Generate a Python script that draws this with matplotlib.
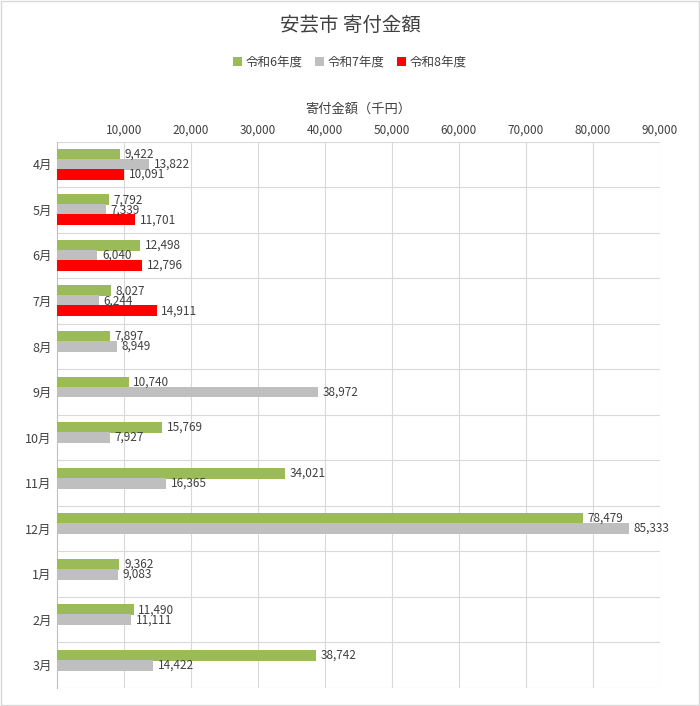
import matplotlib
matplotlib.use("Agg")
import matplotlib.pyplot as plt
import numpy as np

plt.rcParams['font.family'] = ['Noto Sans CJK JP', 'DejaVu Sans']

months = ['4月','5月','6月','7月','8月','9月','10月','11月','12月','1月','2月','3月']
r6 = [9422, 7792, 12498, 8027, 7897, 10740, 15769, 34021, 78479, 9362, 11490, 38742]
r7 = [13822, 7339, 6040, 6244, 8949, 38972, 7927, 16365, 85333, 9083, 11111, 14422]
r8 = [10091, 11701, 12796, 14911]
names = ['令和6年度', '令和7年度', '令和8年度']
colors = ['#9BBB59', '#BFBFBF', '#FF0000']

fig = plt.figure(figsize=(7, 7.06), dpi=100)
ax = fig.add_axes([0.081, 0.0255, 0.862, 0.774])
y = np.arange(len(months))
h = 0.24
for i, (vals, off) in enumerate([(r6, -0.22), (r7, 0.0), (r8, 0.22)]):
    yy = y[:len(vals)] + off
    ax.barh(yy, vals, height=h, color=colors[i], label=names[i], zorder=3)
    for yv, v in zip(yy, vals):
        ax.text(v + 700, yv, f'{v:,}', va='center', ha='left', fontsize=8.5, color='#404040', zorder=4)

ax.set_xlim(0, 90000)
ax.set_ylim(len(months) - 0.5, -0.5)
ax.set_yticks(y)
ax.set_yticklabels(months, fontsize=9, color='#404040')
ax.set_xticks(range(10000, 90001, 10000))
ax.set_xticklabels([f'{v:,}' for v in range(10000, 90001, 10000)], fontsize=8.5, color='#404040')
ax.xaxis.tick_top()
ax.xaxis.set_label_position('top')
ax.set_xlabel('寄付金額（千円）', fontsize=9.5, color='#404040', labelpad=8)
ax.set_yticks(np.arange(-0.5, len(months), 1), minor=True)
ax.grid(axis='x', color='#D9D9D9', lw=0.8, zorder=0)
ax.grid(axis='y', which='minor', color='#D9D9D9', lw=0.8, zorder=0)
ax.tick_params(axis='both', which='both', length=0)
for s in ['top', 'right', 'bottom']:
    ax.spines[s].set_visible(False)
ax.spines['left'].set_color('#BFBFBF')

fig.text(0.5, 0.964, '安芸市 寄付金額', ha='center', va='center', fontsize=14, color='#404040')
fig.legend(loc='center', bbox_to_anchor=(0.5, 0.912), ncol=3, frameon=False, fontsize=9,
           handlelength=0.7, handleheight=0.7, columnspacing=1.0, handletextpad=0.3,
           labelcolor='#404040')
fig.patches.append(matplotlib.patches.Rectangle((0.002, 0.002), 0.996, 0.996, transform=fig.transFigure,
                                                fill=False, edgecolor='#D9D9D9', lw=1))
fig.savefig('out.png', dpi=100)
